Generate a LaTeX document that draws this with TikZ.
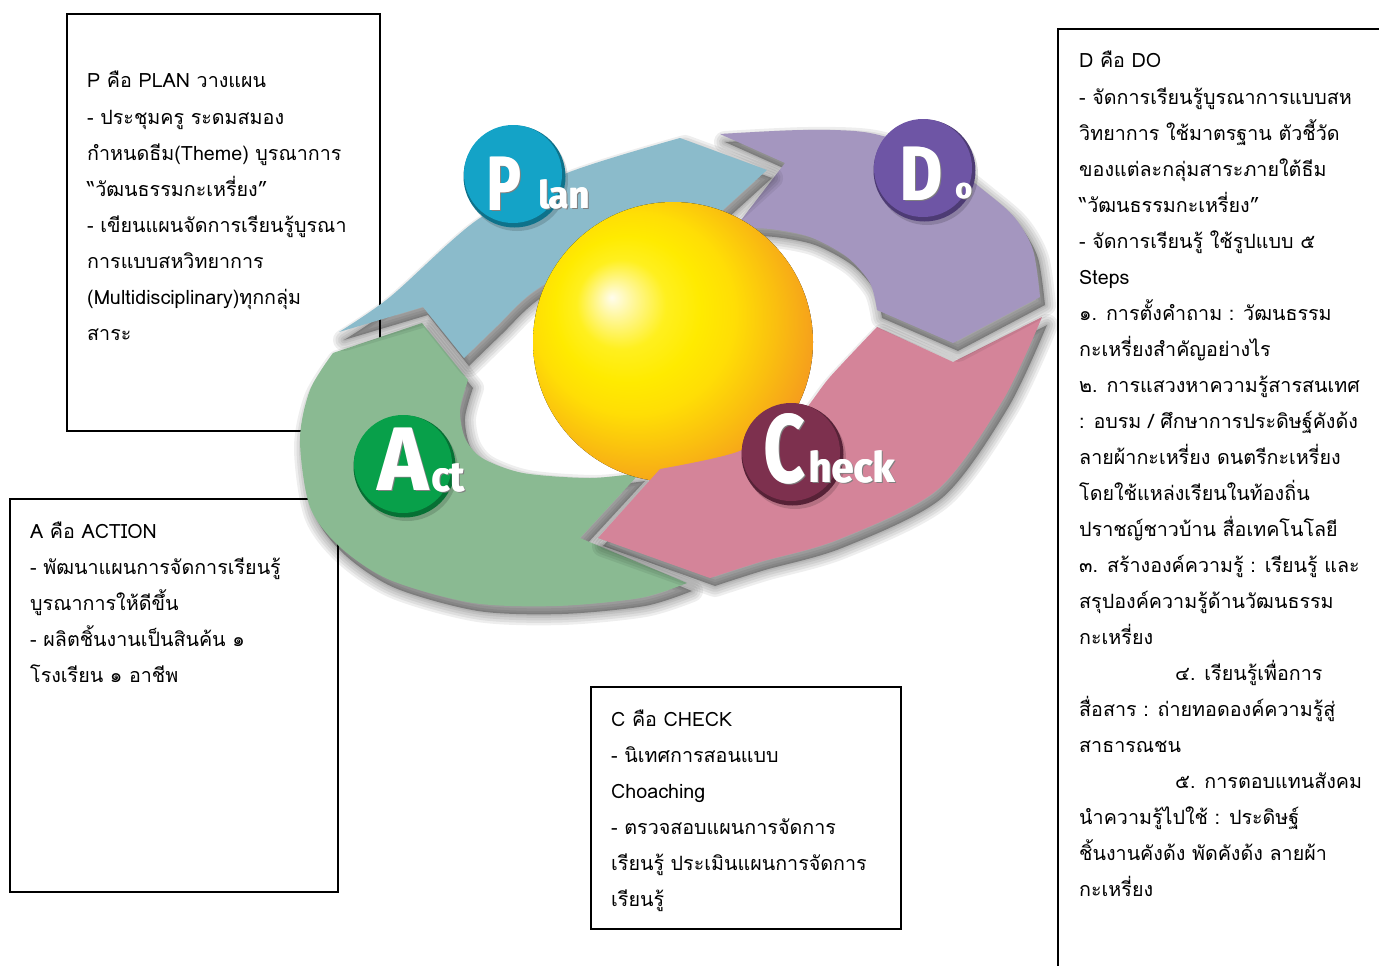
\documentclass[tikz,border=0pt]{standalone}
\usepackage{fontspec}
\usepackage{graphicx}
\setmainfont{Loma}[Script=Thai]
\newfontfamily\badgefont{Fira Sans}

\definecolor{arblue}{RGB}{139,187,203}
\definecolor{arpurple}{RGB}{164,150,191}
\definecolor{arpink}{RGB}{212,132,153}
\definecolor{argreen}{RGB}{138,186,146}
\definecolor{bdblue}{RGB}{20,163,199}
\definecolor{bdpurple}{RGB}{110,85,165}
\definecolor{bdgreen}{RGB}{8,160,74}
\definecolor{bdmaroon}{RGB}{125,48,78}

\pgfdeclareradialshading{eggshade}{\pgfpoint{-11bp}{8bp}}{rgb(0bp)=(1,0.99,0.93); rgb(3bp)=(1,0.97,0.62); rgb(8bp)=(1,0.94,0.12); rgb(13bp)=(1,0.92,0); rgb(18bp)=(1,0.87,0.02); rgb(24bp)=(0.98,0.75,0.06); rgb(31bp)=(0.96,0.6,0.12); rgb(38bp)=(0.95,0.53,0.13); rgb(50bp)=(0.95,0.53,0.13)}

\def\greenpath{(333,353) -- (422,323) -- (468,380) -- plot[smooth] coordinates {(468,380) (460,410) (465,438) (482,458) (523,473) (590,478) (640,473)} -- (580,538) -- (687,583) -- plot[smooth] coordinates {(687,583) (640,598) (557,606) (473,603) (390,580) (340,547) (310,507) (300,440) (310,390) (333,353)} -- cycle}
\def\pinkpath{(1042,317) -- (953,362) -- (877,327) -- plot[smooth] coordinates {(877,327) (830,377) (795,420) (737,452) (660,469)} -- (598,538) -- (710,578) -- plot[smooth] coordinates {(710,578) (760,562) (837,540) (937,490) (1003,400) (1042,317)} -- cycle}
\def\purplepath{(720,134) -- (785,163) -- (735,228) -- plot[smooth] coordinates {(735,228) (770,229) (810,237) (847,257) (870,283) (877,310)} -- (953,343) -- (1040,297) -- plot[smooth] coordinates {(1040,297) (1033,250) (1015,218) (987,193) (935,155) (870,133) (803,130) (720,134)} -- cycle}
\def\bluepath{(339,332) -- plot[smooth] coordinates {(339,332) (390,297) (477,220) (567,173) (680,138)} -- (767,170) -- (723,210) -- plot[smooth] coordinates {(723,210) (670,222) (600,252) (533,292) (497,326) (464,358)} -- (423,307) -- cycle}

\newcommand\dropshadow[1]{%
  \begin{scope}[shift={(5,8)}]
    \foreach \w in {22,17,12,7,3}
      \draw[black,opacity=0.065,line width=\w pt,line join=round] #1;
    \fill[black,opacity=0.3] #1;
  \end{scope}}

\newcommand\badgedisc[4]{% x, y, colour, name
  \fill[black,opacity=0.15] (#1+4,#2+6) circle[radius=51];
  \fill[#3!70!black] (#1+1.5,#2+2.5) circle[radius=51];
  \fill[#3] (#1,#2) circle[radius=49];
  \coordinate (#4) at (#1,#2);}

\newcommand\logotext[6]{% name, x, y, size, xscale, text
  \node[lgt, text=black!50] at (#2+1.8,#3+1.8) {\fontsize{#4}{#4}\selectfont\scalebox{#5}[1]{#6}};
  \node[lgt] at (#2+0.8,#3) {\fontsize{#4}{#4}\selectfont\scalebox{#5}[1]{#6}};
  \node[lgt] (#1) at (#2,#3) {\fontsize{#4}{#4}\selectfont\scalebox{#5}[1]{#6}};}

\tikzset{
  txt/.style={anchor=base west, inner sep=0, font=\fontsize{19.7}{22}\selectfont},
  boxline/.style={draw=black, line width=1.3pt},
  lgt/.style={anchor=base west, inner sep=0, text=white, font=\badgefont\bfseries}
}

\begin{document}
\begin{tikzpicture}[x=1pt,y=-1pt]
\path[use as bounding box] (0,0) rectangle (1379,966);
\clip (0,0) rectangle (1379,966);
\fill[white] (0,0) rectangle (1379,966);

% text boxes
\draw[boxline] (67,14) rectangle (380,431);
\draw[boxline] (10,499) rectangle (338,892);
\draw[boxline] (591,687) rectangle (901,929);
\draw[boxline] (1058,29) rectangle (1420,1010);

\foreach \ltext [count=\i] in {{P คือ PLAN วางแผน},{- ประชุมครู ระดมสมอง},{กำหนดธีม(Theme) บูรณาการ},{“วัฒนธรรมกะเหรี่ยง”},{- เขียนแผนจัดการเรียนรู้บูรณา},{การแบบสหวิทยาการ},{(Multidisciplinary)ทุกกลุ่ม},{สาระ}}
  \node[txt] (plan\i) at (87,{88+36*(\i-1)}) {\ltext};

\foreach \ltext [count=\i] in {{A คือ ACTION},{- พัฒนาแผนการจัดการเรียนรู้},{บูรณาการให้ดีขึ้น},{- ผลิตชิ้นงานเป็นสินค้น ๑},{โรงเรียน ๑ อาชีพ}}
  \node[txt] (act\i) at (30,{538+36*(\i-1)}) {\ltext};

\foreach \ltext [count=\i] in {{C คือ CHECK},{- นิเทศการสอนแบบ},{Choaching},{- ตรวจสอบแผนการจัดการ},{เรียนรู้ ประเมินแผนการจัดการ},{เรียนรู้}}
  \node[txt] (check\i) at (611,{726+36*(\i-1)}) {\ltext};

\foreach \ltext [count=\i] in {{D คือ DO},{- จัดการเรียนรู้บูรณาการแบบสห},{วิทยาการ ใช้มาตรฐาน ตัวชี้วัด},{ของแต่ละกลุ่มสาระภายใต้ธีม},{“วัฒนธรรมกะเหรี่ยง”},{- จัดการเรียนรู้ ใช้รูปแบบ ๕},{Steps},{๑. การตั้งคำถาม : วัฒนธรรม},{กะเหรี่ยงสำคัญอย่างไร},{๒. การแสวงหาความรู้สารสนเทศ},{: อบรม / ศึกษาการประดิษฐ์คังด้ง},{ลายผ้ากะเหรี่ยง ดนตรีกะเหรี่ยง},{โดยใช้แหล่งเรียนในท้องถิ่น},{ปราชญ์ชาวบ้าน สื่อเทคโนโลยี},{๓. สร้างองค์ความรู้ : เรียนรู้ และ},{สรุปองค์ความรู้ด้านวัฒนธรรม},{กะเหรี่ยง},{\hspace*{96pt}๔. เรียนรู้เพื่อการ},{สื่อสาร : ถ่ายทอดองค์ความรู้สู่},{สาธารณชน},{\hspace*{96pt}๕. การตอบแทนสังคม},{นำความรู้ไปใช้ : ประดิษฐ์},{ชิ้นงานคังด้ง พัดคังด้ง ลายผ้า},{กะเหรี่ยง}}
  \node[txt] (do\i) at (1079,{68+36*(\i-1)}) {\ltext};

% cycle arrows
\dropshadow{\greenpath}
\fill[argreen] \greenpath;
\dropshadow{\pinkpath}
\fill[arpink] \pinkpath;
\dropshadow{\purplepath}
\fill[arpurple] \purplepath;
\dropshadow{\bluepath}
\fill[arblue] \bluepath;

% sphere
\fill[shading=eggshade] (673,342) circle[radius=140];
\begin{scope}
  \clip (673,342) circle[radius=141];
  \fill[arpink] \pinkpath;
\end{scope}

% badges
\badgedisc{513}{174}{bdblue}{planbadge}
\badgedisc{923}{168}{bdpurple}{dobadge}
\badgedisc{403}{464}{bdgreen}{actbadge}
\badgedisc{791}{452}{bdmaroon}{checkbadge}

\logotext{lP}{486}{210}{77}{0.74}{P}
\logotext{llan}{538}{208}{38}{0.95}{lan}
\logotext{lD}{899}{200}{77}{0.85}{D}
\logotext{lo}{955}{198}{28}{1}{o}
\logotext{lA}{377}{490}{90}{0.95}{A}
\logotext{lct}{431}{491}{42}{0.9}{ct}
\logotext{lC}{763}{482}{97}{0.74}{C}
\logotext{lheck}{808}{482}{42}{0.95}{heck}
\end{tikzpicture}
\end{document}
